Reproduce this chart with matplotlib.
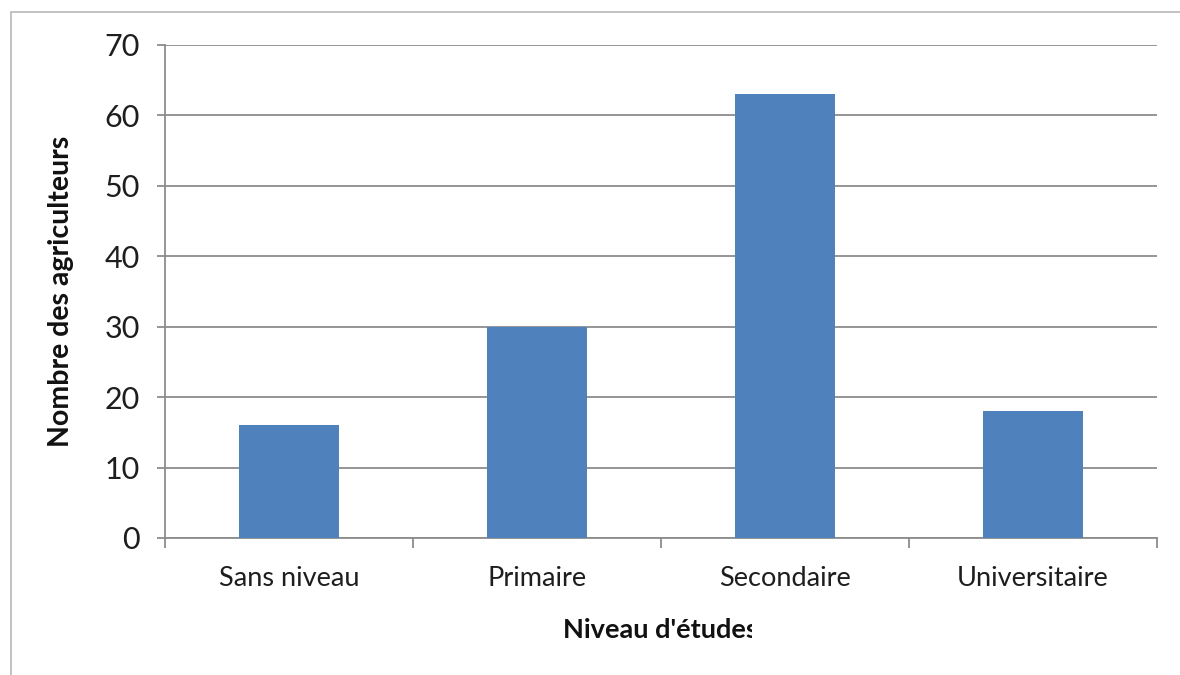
import matplotlib
matplotlib.use("Agg")
import matplotlib.pyplot as plt
from matplotlib.patches import Rectangle
from matplotlib.ticker import FixedLocator

categories = ["Sans niveau", "Primaire", "Secondaire", "Universitaire"]
counts = [16, 30, 63, 18]
y_ticks = [0, 10, 20, 30, 40, 50, 60, 70]

plt.rcParams["font.family"] = ["Lato", "DejaVu Sans"]

fig = plt.figure(figsize=(11.8, 6.75), dpi=100)
ax = fig.add_axes([0.1398, 0.2030, 0.8407, 0.7304])

# light outer frame (only top and left edges visible)
fig.patches.append(Rectangle((11 / 1180, -0.1), 1.2, 1 - 12 / 675 + 0.1,
                             transform=fig.transFigure, fill=False,
                             edgecolor="#bdbdbd", linewidth=1.3, zorder=0))

x = list(range(len(categories)))
ax.bar(x, counts, width=0.4, color="#4F81BD", zorder=3)

ax.set_xlim(-0.5, len(categories) - 0.5)
ax.set_ylim(0, 70)
ax.set_yticks(y_ticks)
ax.set_xticks(x)
ax.set_xticklabels(categories)
ax.xaxis.set_minor_locator(FixedLocator([i - 0.5 for i in range(len(categories) + 1)]))

grid_col = "#8c8c8c"
ax.yaxis.grid(True, color=grid_col, linewidth=1.3, zorder=0)
ax.set_axisbelow(True)
for s in ["top", "right"]:
    ax.spines[s].set_visible(False)
for s in ["left", "bottom"]:
    ax.spines[s].set_color(grid_col)
    ax.spines[s].set_linewidth(1.3)

ax.tick_params(axis="y", which="major", length=6, width=1.3, color=grid_col,
               pad=12, labelsize=22, labelcolor="#1e1e1e")
ax.tick_params(axis="x", which="major", length=0, pad=20, labelsize=19.5,
               labelcolor="#1e1e1e")
ax.tick_params(axis="x", which="minor", length=7, width=1.3, color=grid_col)

ax.set_ylabel("Nombre des agriculteurs", fontsize=20.5, fontweight="bold",
              color="#111111", labelpad=22)

fig.text(0.5596, 0.067, "Niveau d'études", ha="center", va="center",
         fontsize=19.5, fontweight="bold", color="#111111", zorder=3)
# the axis title is cut off on its right side
fig.patches.append(Rectangle((752 / 1180, 0.02), 0.08, 0.09,
                             transform=fig.transFigure, facecolor="white",
                             edgecolor="none", zorder=5))

fig.savefig("out.png", dpi=100)
